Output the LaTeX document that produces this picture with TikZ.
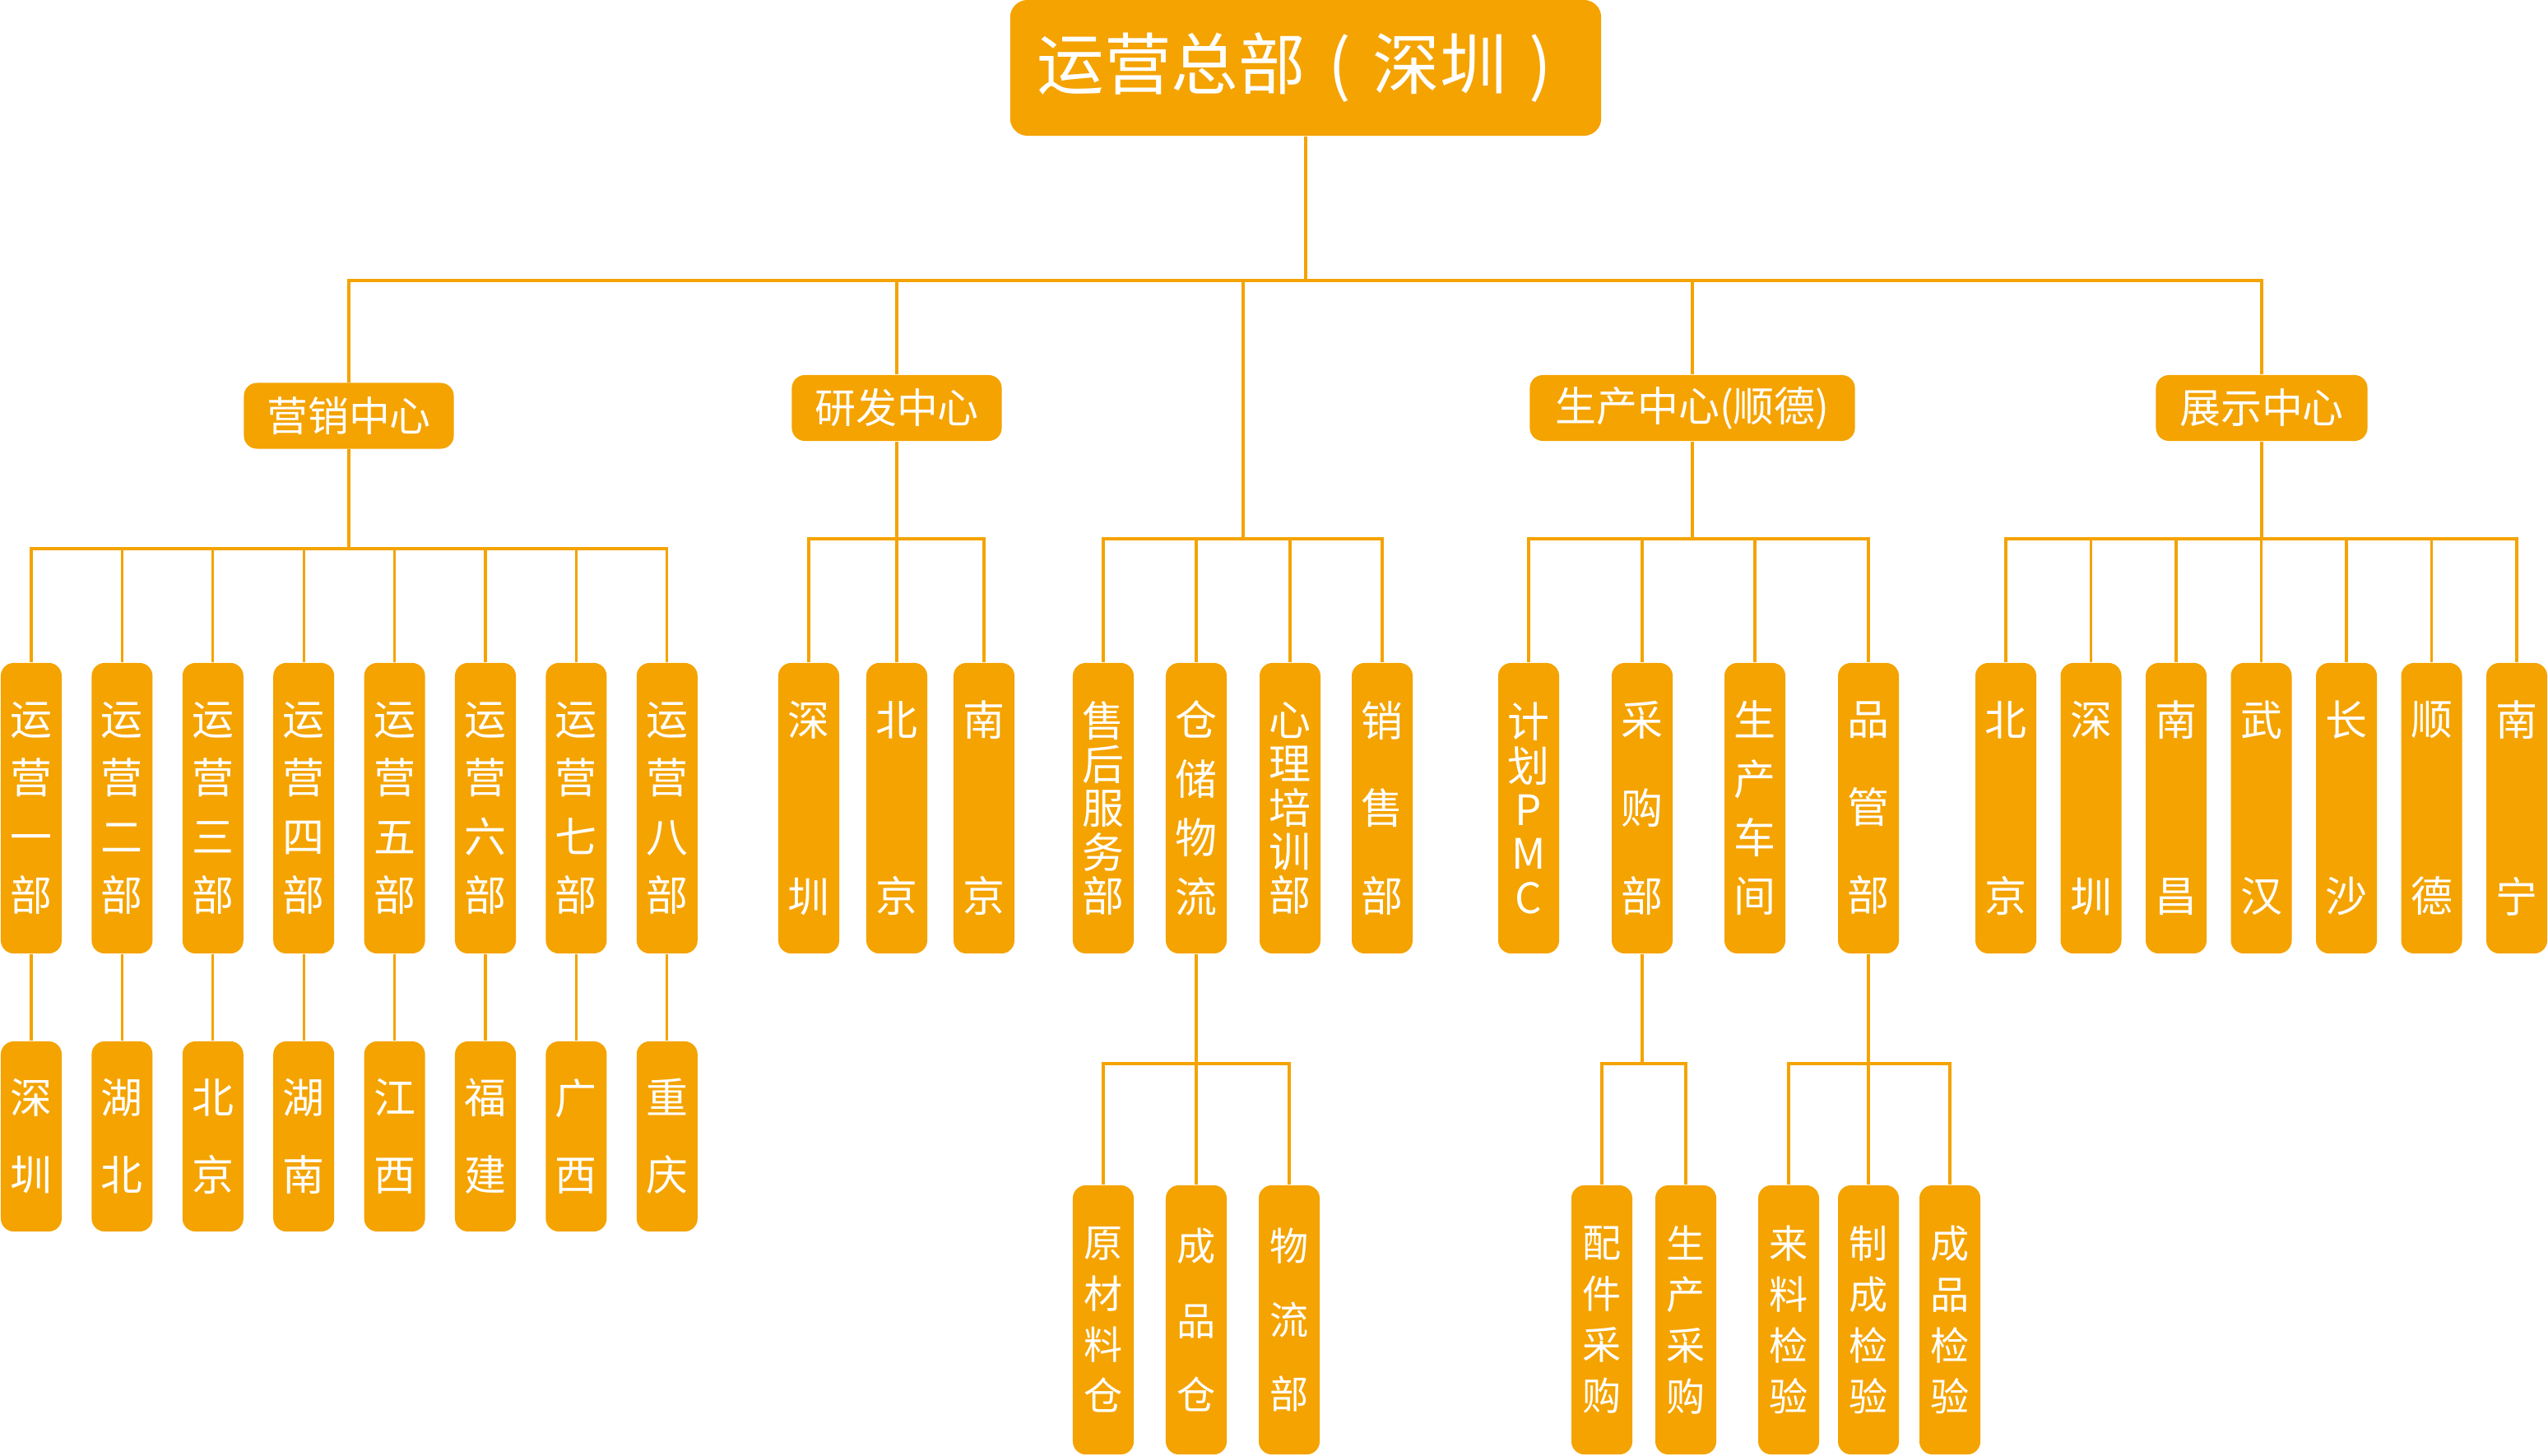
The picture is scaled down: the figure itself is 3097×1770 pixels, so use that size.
\documentclass[tikz,border=0pt]{standalone}
\usepackage{fontspec}
\setmainfont{Noto Sans CJK SC}
\definecolor{Oc}{HTML}{F4A300}
\tikzset{
  orgbox/.style={fill=Oc, text=white, inner sep=0pt, align=center, rounded corners=4.5pt},
  hq/.style={orgbox, rounded corners=6pt, minimum width=7.18cm, minimum height=1.65cm, font=\fontsize{23.2pt}{28pt}\selectfont},
  hub/.style={orgbox, minimum height=0.8cm, font=\fontsize{14.2pt}{17pt}\selectfont},
  dept/.style={orgbox, minimum width=0.74cm, minimum height=3.53cm, font=\fontsize{14.5pt}{#1}\selectfont},
  city/.style={orgbox, minimum width=0.74cm, minimum height=2.31cm, font=\fontsize{14.5pt}{26.7pt}\selectfont},
  leaf/.style={orgbox, minimum width=0.74cm, minimum height=3.27cm, font=\fontsize{13.4pt}{#1}\selectfont},
  wire/.style={draw=Oc, line width=0.9pt},
}
\newcommand{\rowC}{982.5}
\newcommand{\rowL}{1604.5}
\newcommand{\cellP}[1]{\makebox[1em]{#1}}
\begin{document}
\begin{tikzpicture}[x=0.01cm, y=-0.01cm]
  \useasboundingbox (0,0) rectangle (3097,1770);
  % head office and centres
  \node[hq] (root) at (1587,82.5) {运营总部\cellP{(}深圳\cellP{)}};
  \coordinate (hqbus) at (1587,341);
  \node[hub, minimum width=2.55cm] (yx) at (424,505.5) {营销中心};
  \node[hub, minimum width=2.55cm] (yf) at (1090,496) {研发中心};
  \node[hub, minimum width=3.95cm] (sc) at (2057,496) {生产中心(顺德)};
  \node[hub, minimum width=2.57cm] (zs) at (2749,496) {展示中心};
  \coordinate (mid) at (1511,655);
  \draw[wire] (root) -- (hqbus);
  \foreach \c in {yx,yf,sc,zs} \draw[wire] (hqbus) -| (\c.north);
  \draw[wire] (hqbus) -| (mid);
  % marketing
  \coordinate (yxbus) at (424,667);
  \draw[wire] (yx) -- (yxbus);
  \foreach \t/\s [count=\k] in {一/深\\圳, 二/湖\\北, 三/北\\京, 四/湖\\南, 五/江\\西, 六/福\\建, 七/广\\西, 八/重\\庆}{
    \node[dept=20.3pt] (yx\k) at ({38+110.4*(\k-1)},\rowC) {运\\营\\\t\\部};
    \node[city] (yxc\k) at ({38+110.4*(\k-1)},1381.5) {\s};
    \draw[wire] (yxbus) -| (yx\k.north);
    \draw[wire] (yx\k) -- (yxc\k);
  }
  % research
  \coordinate (yfbus) at (1090,655);
  \draw[wire] (yf) -- (yfbus);
  \foreach \x/\a/\b [count=\k] in {983/深/圳, 1090/北/京, 1196/南/京}{
    \node[dept=60.9pt] (yf\k) at (\x,\rowC) {\a\\\b};
    \draw[wire] (yfbus) -| (yf\k.north);
  }
  % head office departments
  \node[dept=15.2pt] (mc1) at (1341,\rowC) {售\\后\\服\\务\\部};
  \node[dept=20.3pt] (mc2) at (1454,\rowC) {仓\\储\\物\\流};
  \node[dept=15.2pt] (mc3) at (1568,\rowC) {心\\理\\培\\训\\部};
  \node[dept=30.4pt] (mc4) at (1680,\rowC) {销\\售\\部};
  \foreach \i in {1,...,4} \draw[wire] (mid) -| (mc\i.north);
  % production
  \coordinate (scbus) at (2057,655);
  \draw[wire] (sc) -- (scbus);
  \node[dept=15.2pt] (sc1) at (1858,\rowC) {计\\划\\P\\M\\C};
  \node[dept=30.4pt] (sc2) at (1996,\rowC) {采\\购\\部};
  \node[dept=20.3pt] (sc3) at (2133,\rowC) {生\\产\\车\\间};
  \node[dept=30.4pt] (sc4) at (2271,\rowC) {品\\管\\部};
  \foreach \i in {1,...,4} \draw[wire] (scbus) -| (sc\i.north);
  % showrooms
  \coordinate (zsbus) at (2749,655);
  \draw[wire] (zs) -- (zsbus);
  \foreach \a/\b [count=\k] in {北/京, 深/圳, 南/昌, 武/汉, 长/沙, 顺/德, 南/宁}{
    \node[dept=60.9pt] (zs\k) at ({2438+103.5*(\k-1)},\rowC) {\a\\\b};
    \draw[wire] (zsbus) -| (zs\k.north);
  }
  % lowest level
  \coordinate (ckbus) at (1454,1293);
  \draw[wire] (mc2) -- (ckbus);
  \node[leaf=17.6pt] (ck1) at (1341,\rowL) {原\\材\\料\\仓};
  \node[leaf=25.6pt] (ck2) at (1454,\rowL) {成\\品\\仓};
  \node[leaf=25.6pt] (ck3) at (1567,\rowL) {物\\流\\部};
  \foreach \i in {1,2,3} \draw[wire] (ckbus) -| (ck\i.north);
  \coordinate (cgbus) at (1996,1293);
  \draw[wire] (sc2) -- (cgbus);
  \node[leaf=17.6pt] (cg1) at (1947,\rowL) {配\\件\\采\\购};
  \node[leaf=17.6pt] (cg2) at (2049,\rowL) {生\\产\\采\\购};
  \foreach \i in {1,2} \draw[wire] (cgbus) -| (cg\i.north);
  \coordinate (pgbus) at (2271,1293);
  \draw[wire] (sc4) -- (pgbus);
  \node[leaf=17.6pt] (pg1) at (2174,\rowL) {来\\料\\检\\验};
  \node[leaf=17.6pt] (pg2) at (2271,\rowL) {制\\成\\检\\验};
  \node[leaf=17.6pt] (pg3) at (2370,\rowL) {成\\品\\检\\验};
  \foreach \i in {1,2,3} \draw[wire] (pgbus) -| (pg\i.north);
\end{tikzpicture}
\end{document}
